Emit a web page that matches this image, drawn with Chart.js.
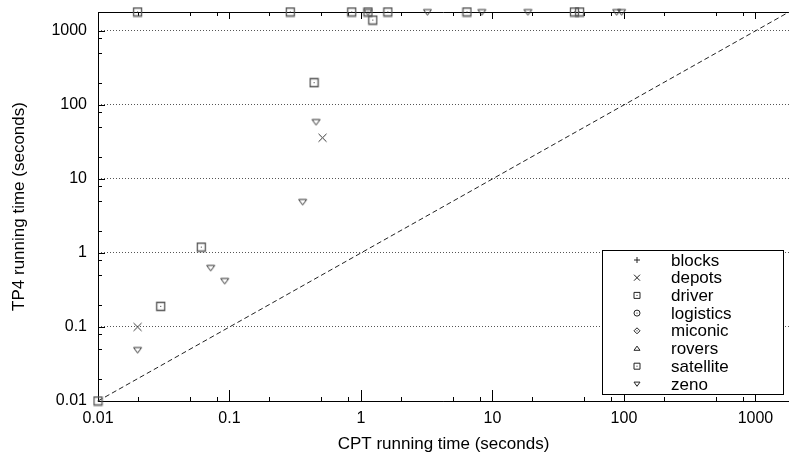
<!DOCTYPE html>
<html>
<head>
<meta charset="utf-8">
<script src="https://cdn.jsdelivr.net/npm/chart.js@4"></script>
<style>
  html, body { margin: 0; padding: 0; background: #fff; }
</style>
</head>
<body>
<canvas id="chart" width="789" height="457"></canvas>
<script>
'use strict';

// domains and the marker each one uses
const names = ['blocks', 'depots', 'driver', 'logistics', 'miconic', 'rovers', 'satellite', 'zeno'];
const markers = ['plus', 'cross', 'box', 'circle', 'diamond', 'up', 'box', 'down'];

// CPT time (x) vs TP4 time (y), seconds; 1800 means the run timed out
const blocksX = [];
const blocksY = [];
const depotsX = [0.02, 0.51];
const depotsY = [0.1, 36];
const driverX = [0.01, 0.03, 0.061, 0.44, 0.02, 0.85, 1.6, 42];
const driverY = [0.01, 0.19, 1.2, 200, 1800, 1800, 1800, 1800];
const logisticsX = [];
const logisticsY = [];
const miconicX = [];
const miconicY = [];
const roversX = [];
const roversY = [];
const satelliteX = [1.23, 0.29, 1.13, 6.4, 46];
const satelliteY = [1400, 1800, 1800, 1800, 1800];
const zenoX = [0.02, 0.072, 0.092, 0.36, 0.455, 1.13, 3.2, 8.3, 18.6, 88, 96];
const zenoY = [0.049, 0.63, 0.42, 4.9, 59, 1800, 1800, 1800, 1800, 1800, 1800];

const xs = [blocksX, depotsX, driverX, logisticsX, miconicX, roversX, satelliteX, zenoX];
const ys = [blocksY, depotsY, driverY, logisticsY, miconicY, roversY, satelliteY, zenoY];

const axisMin = 0.01;
const axisMax = 1800;
const majorTicks = [0.01, 0.1, 1, 10, 100, 1000];
const tickLabels = ['0.01', '0.1', '1', '10', '100', '1000'];
const minorSteps = [2, 5, 8];

const fontFamily = '"Liberation Sans", Arial, Helvetica, sans-serif';

function drawMarker(ctx, kind, x, y, r) {
    ctx.beginPath();
    if (kind === 'plus') {
        ctx.moveTo(x - r, y); ctx.lineTo(x + r, y);
        ctx.moveTo(x, y - r); ctx.lineTo(x, y + r);
    } else if (kind === 'cross') {
        ctx.moveTo(x - r, y - r); ctx.lineTo(x + r, y + r);
        ctx.moveTo(x + r, y - r); ctx.lineTo(x - r, y + r);
    } else if (kind === 'box') {
        ctx.rect(x - r, y - r, 2 * r, 2 * r);
    } else if (kind === 'circle') {
        ctx.arc(x, y, r, 0, Math.PI * 2);
    } else if (kind === 'diamond') {
        ctx.moveTo(x, y - r); ctx.lineTo(x + r, y);
        ctx.lineTo(x, y + r); ctx.lineTo(x - r, y); ctx.closePath();
    } else if (kind === 'up') {
        ctx.moveTo(x - r, y + r * 0.6); ctx.lineTo(x + r, y + r * 0.6);
        ctx.lineTo(x, y - r * 0.8); ctx.closePath();
    } else if (kind === 'down') {
        ctx.moveTo(x - r, y - r * 0.6); ctx.lineTo(x + r, y - r * 0.6);
        ctx.lineTo(x, y + r * 0.8); ctx.closePath();
    }
    ctx.stroke();
    if (kind === 'box' || kind === 'circle' || kind === 'diamond') {
        ctx.fillRect(x - 0.5, y - 0.5, 1, 1);
    }
}

function markerImage(kind) {
    const c = document.createElement('canvas');
    c.width = 11; c.height = 11;
    const g = c.getContext('2d');
    g.strokeStyle = kind === 'box' ? '#555' : '#333';
    g.fillStyle = '#333';
    g.lineWidth = kind === 'box' ? 1.3 : 1;
    drawMarker(g, kind, 5.5, 5.5, 4);
    return c;
}

// inward ticks, top border and axis lines
const frame = {
    id: 'frame',
    beforeDatasetsDraw(chart) {
        const { ctx, chartArea: a, scales: { x, y } } = chart;
        ctx.save();
        ctx.strokeStyle = '#000';
        ctx.lineWidth = 1;
        ctx.beginPath();
        ctx.moveTo(a.left + 0.5, a.top); ctx.lineTo(a.left + 0.5, a.bottom);
        ctx.moveTo(a.left, a.bottom + 0.5); ctx.lineTo(a.right, a.bottom + 0.5);
        ctx.moveTo(a.left, a.top + 0.5); ctx.lineTo(a.right, a.top + 0.5);
        for (let d = -2; d <= 3; d++) {
            const base = Math.pow(10, d);
            [1].concat(minorSteps).forEach((m) => {
                const v = m * base;
                if (v > axisMax) return;
                const major = m === 1;
                const px = Math.round(x.getPixelForValue(v)) + 0.5;
                const py = Math.round(y.getPixelForValue(v)) + 0.5;
                ctx.moveTo(px, a.bottom); ctx.lineTo(px, a.bottom - (major ? 11 : 4));
                ctx.moveTo(px, a.top); ctx.lineTo(px, a.top + (major ? 7 : 4));
                ctx.moveTo(a.left, py); ctx.lineTo(a.left + (major ? 7 : 4), py);
            });
        }
        ctx.stroke();
        ctx.restore();
    }
};

// boxed key in the lower right corner
const keyBox = {
    id: 'keyBox',
    afterDraw(chart) {
        const ctx = chart.ctx;
        ctx.save();
        ctx.fillStyle = '#fff';
        ctx.fillRect(602, 250, 181, 144);
        ctx.strokeStyle = '#000';
        ctx.lineWidth = 1;
        ctx.strokeRect(602.5, 250.5, 181, 144);
        ctx.font = '17px ' + fontFamily;
        ctx.textBaseline = 'middle';
        names.forEach((name, i) => {
            const cy = 260 + i * 17.7;
            ctx.strokeStyle = '#222';
            ctx.fillStyle = '#222';
            ctx.lineWidth = 1;
            drawMarker(ctx, markers[i], 637, cy, 3);
            ctx.fillStyle = '#000';
            ctx.fillText(name, 671, cy + 1);
        });
        ctx.restore();
    }
};

const datasets = names.map((name, i) => ({
    type: 'scatter',
    label: name,
    data: xs[i].map((v, j) => ({ x: v, y: ys[i][j] })),
    pointStyle: markerImage(markers[i]),
    pointRadius: 5,
    pointHoverRadius: 5,
    clip: false
}));

datasets.push({
    type: 'line',
    label: 'y = x',
    data: [{ x: axisMin, y: axisMin }, { x: axisMax, y: axisMax }],
    borderColor: '#222',
    borderWidth: 1,
    borderDash: [5, 3],
    pointRadius: 0,
    fill: false
});

new Chart(document.getElementById('chart'), {
    data: { datasets },
    options: {
        responsive: false,
        animation: false,
        layout: { autoPadding: false, padding: { top: 12, right: 0, bottom: 0, left: 0 } },
        plugins: { legend: { display: false }, tooltip: { enabled: false } },
        scales: {
            x: {
                type: 'logarithmic',
                min: axisMin,
                max: axisMax,
                afterBuildTicks: (s) => { s.ticks = majorTicks.map(v => ({ value: v })); },
                afterFit: (s) => {
                    s.height = 56;
                    s.paddingLeft = 0;
                    s.paddingRight = 0;
                },
                ticks: {
                    callback: (v, i) => tickLabels[i],
                    color: '#000',
                    font: { family: fontFamily, size: 16 },
                    padding: 8,
                    maxRotation: 0,
                    autoSkip: false
                },
                grid: { display: false, drawTicks: false },
                border: { display: false },
                title: {
                    display: true,
                    text: 'CPT running time (seconds)',
                    color: '#000',
                    font: { family: fontFamily, size: 17 },
                    padding: { top: 0, bottom: 2 }
                }
            },
            y: {
                type: 'logarithmic',
                min: axisMin,
                max: axisMax,
                afterBuildTicks: (s) => { s.ticks = majorTicks.map(v => ({ value: v })); },
                afterFit: (s) => {
                    s.width = 98;
                    s.paddingTop = 0;
                    s.paddingBottom = 0;
                },
                ticks: {
                    callback: (v, i) => tickLabels[i],
                    color: '#000',
                    font: { family: fontFamily, size: 16 },
                    padding: 11,
                    autoSkip: false
                },
                grid: { drawTicks: false, color: '#555', lineWidth: 1 },
                border: { display: false, dash: [1, 2] },
                title: {
                    display: true,
                    text: 'TP4 running time (seconds)',
                    color: '#000',
                    font: { family: fontFamily, size: 17 },
                    padding: { top: 9, bottom: 0 }
                }
            }
        }
    },
    plugins: [frame, keyBox]
});
</script>
</body>
</html>
